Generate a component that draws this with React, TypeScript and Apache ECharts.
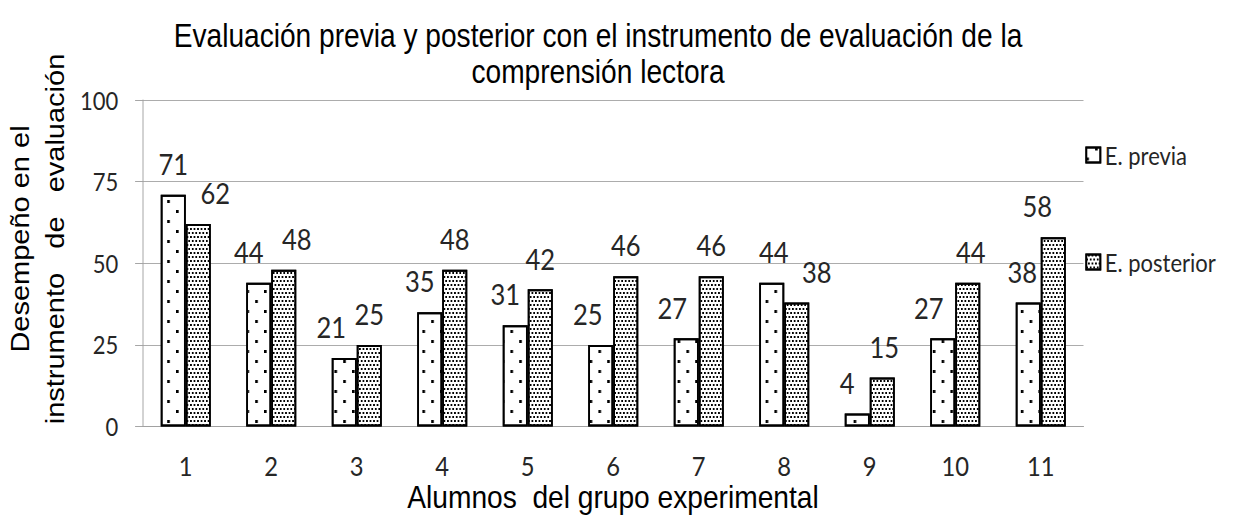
import React, { useEffect, useRef } from "react";
import * as echarts from "echarts";

const categories = ["1", "2", "3", "4", "5", "6", "7", "8", "9", "10", "11"];
const previa = [71, 44, 21, 35, 31, 25, 27, 44, 4, 27, 38];
const posterior = [62, 48, 25, 48, 42, 46, 46, 38, 15, 44, 58];
const yTicks = [0, 25, 50, 75, 100];

// style: horizontal label nudges (screen px)
const previaDx = [0, -10, -13, -10, -10, -13, -14, 2, -10, -14, -6];
const posteriorDx = [17, 13, 0, 0, 0, 0, 0, 20, 2, 3, -16];

const S = 0.88; // horizontal compression of the whole picture
const W = Math.round(1243 / S);
const H = 525;

export default function App() {
  const ref = useRef<HTMLDivElement>(null);
  useEffect(() => {
    if (!ref.current) return;
    const chart = echarts.init(ref.current, null, { renderer: "svg" });
    const labelFont = "Lato, 'Open Sans', sans-serif";
    const makeData = (vals: number[], dx: number[]) =>
      vals.map((v, i) => ({ value: v, label: { offset: [dx[i] / S, 0] } }));
    const baseLabel = {
      show: true,
      position: "top",
      distance: 18,
      fontFamily: labelFont,
      fontSize: 29,
      lineHeight: 26,
      color: "#262626",
    };
    chart.setOption({
      animation: false,
      backgroundColor: "#fff",
      grid: { left: 143 / S, right: W - 1083.5 / S, top: 100, bottom: 98.5 },
      legend: {
        orient: "vertical",
        left: 1081 / S,
        top: 137,
        icon: "rect",
        itemWidth: 16,
        itemHeight: 15,
        itemGap: 81,
        itemStyle: { borderColor: "#000", borderWidth: 2 },
        textStyle: { fontFamily: labelFont, fontSize: 25, lineHeight: 26, color: "#262626" },
        data: ["E. previa", "E. posterior"],
      },
      xAxis: {
        type: "category",
        data: categories,
        axisLine: { lineStyle: { color: "#a0a0a0", width: 1 } },
        axisTick: { show: false },
        axisLabel: { fontFamily: labelFont, fontSize: 27, lineHeight: 26, color: "#262626", margin: 26 },
      },
      yAxis: {
        type: "value",
        min: yTicks[0],
        max: yTicks[yTicks.length - 1],
        interval: 25,
        axisLine: { show: true, lineStyle: { color: "#a0a0a0", width: 1 } },
        axisTick: { show: true, length: 9, lineStyle: { color: "#a0a0a0" } },
        splitLine: { lineStyle: { color: "#a6a6a6", width: 1 } },
        axisLabel: { fontFamily: labelFont, fontSize: 25, color: "#262626", margin: 28 },
      },
      series: [
        {
          name: "E. previa",
          type: "bar",
          data: makeData(previa, previaDx),
          barWidth: 25 / S,
          barGap: "0%",
          itemStyle: {
            color: "#fff",
            borderColor: "#000",
            borderWidth: 2,
            decal: {
              symbol: "rect",
              symbolSize: 1,
              color: "#000",
              dashArrayX: [[2.5, 16.5], [0, 9.5, 2.5, 7]],
              dashArrayY: [2.2, 7],
            },
          },
          label: baseLabel,
        },
        {
          name: "E. posterior",
          type: "bar",
          data: makeData(posterior, posteriorDx),
          barWidth: 25 / S,
          itemStyle: {
            color: "#fff",
            borderColor: "#000",
            borderWidth: 2,
            decal: {
              symbol: "rect",
              symbolSize: 1,
              color: "#000",
              dashArrayX: [[1.8, 1.5], [0, 1.65, 1.8, 0]],
              dashArrayY: [1.8, 1.1],
            },
          },
          label: baseLabel,
        },
      ],
      graphic: [
        {
          type: "text",
          x: 598 / S,
          y: 54,
          scaleX: 0.94,
          style: {
            text: "Evaluación previa y posterior con el instrumento de evaluación de la\ncomprensión lectora",
            font: "34px 'Liberation Sans', Arial, sans-serif",
            lineHeight: 36,
            textAlign: "center",
            textVerticalAlign: "middle",
            fill: "#000",
          },
        },
        {
          type: "text",
          x: 613 / S,
          y: 497,
          style: {
            text: "Alumnos  del grupo experimental",
            font: "32px 'Liberation Sans', Arial, sans-serif",
            textAlign: "center",
            textVerticalAlign: "middle",
            fill: "#000",
          },
        },
        {
          type: "text",
          x: 38 / S,
          y: 239,
          rotation: Math.PI / 2,
          style: {
            text: "Desempeño en el\ninstrumento   de   evaluación",
            font: "29px 'Liberation Sans', Arial, sans-serif",
            lineHeight: 35 / S,
            textAlign: "center",
            textVerticalAlign: "middle",
            fill: "#000",
          },
        },
      ],
    });
    return () => chart.dispose();
  }, []);
  return (
    <div
      style={{
        position: "fixed",
        left: 0,
        top: 0,
        width: 1243,
        height: H,
        overflow: "hidden",
        background: "#fff",
      }}
    >
      <div
        ref={ref}
        style={{ width: W, height: H, transform: `scaleX(${S})`, transformOrigin: "0 0" }}
      />
    </div>
  );
}
